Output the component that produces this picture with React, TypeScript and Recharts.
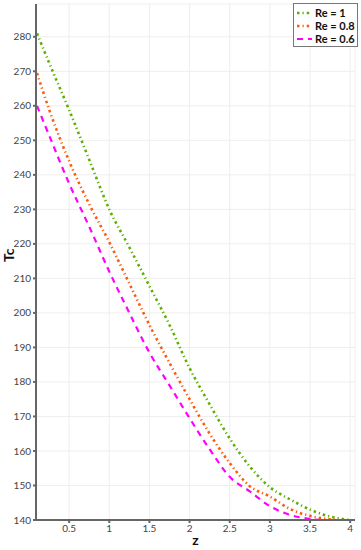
import { CartesianGrid, Line, LineChart, XAxis, YAxis } from "recharts";

// z positions and Tc values, one list per Re
const zRe1 = [0.1, 0.25, 0.5, 0.75, 1, 1.25, 1.5, 1.75, 2, 2.25, 2.5, 2.75, 3, 3.25, 3.5, 3.75, 4];
const tcRe1 = [281, 272.5, 258.8, 244.4, 230, 219, 207.8, 196.5, 184, 173.5, 163.6, 155.5, 149.5, 146, 143, 141, 140];

const zRe08 = [0.1, 0.25, 0.5, 0.75, 1, 1.25, 1.5, 1.75, 2, 2.25, 2.5, 2.75, 3, 3.25, 3.5, 3.75, 3.85];
const tcRe08 = [269.5, 259, 244, 231.5, 220.5, 208.5, 196.5, 185.5, 175, 165, 156.5, 149.8, 146.8, 143.2, 141.2, 140.2, 140];

const zRe06 = [0.1, 0.25, 0.5, 0.75, 1, 1.25, 1.5, 1.75, 2, 2.25, 2.5, 2.75, 3, 3.25, 3.5, 3.64];
const tcRe06 = [260, 251.5, 237.5, 225, 212, 200, 188.5, 179, 169.5, 160.5, 152.5, 148.3, 144, 141.5, 140.3, 140];

const xTicks = [0.5, 1, 1.5, 2, 2.5, 3, 3.5, 4];
const yTicks = [140, 150, 160, 170, 180, 190, 200, 210, 220, 230, 240, 250, 260, 270, 280];

const toRows = (zs: number[], tcs: number[]) => zs.map((z, i) => ({ z, tc: tcs[i] }));

const SERIES = [
  { name: "Re = 1", data: toRows(zRe1, tcRe1), color: "#5cb000", dash: "2.5 3 1.2 3", width: 2.6 },
  { name: "Re = 0.8", data: toRows(zRe08, tcRe08), color: "#ff5a0a", dash: "2.5 3 1.2 3", width: 2.6 },
  { name: "Re = 0.6", data: toRows(zRe06, tcRe06), color: "#ff00ff", dash: "6 5", width: 2.2 },
];

const FONT = "Lato, 'DejaVu Sans', sans-serif";

function LegendBox() {
  return (
    <div
      style={{
        position: "absolute",
        left: 293,
        top: 3,
        width: 65,
        height: 44,
        border: "1px solid #777",
        background: "#fff",
        boxSizing: "border-box",
        fontFamily: FONT,
        fontWeight: 700,
        fontSize: 11,
        color: "#111",
        padding: "2px 0 0 2px",
        whiteSpace: "nowrap",
      }}
    >
      {SERIES.map((s) => (
        <div key={s.name} style={{ display: "flex", alignItems: "center", height: 13 }}>
          <svg width={17} height={8} style={{ marginRight: 2, flexShrink: 0 }}>
            <line x1={1} y1={4} x2={16} y2={4} stroke={s.color} strokeWidth={s.width} strokeDasharray={s.dash} />
          </svg>
          <span>{s.name}</span>
        </div>
      ))}
    </div>
  );
}

export default function App() {
  return (
    <div style={{ position: "absolute", left: 0, top: 0, width: 361, height: 550, background: "#fff" }}>
      <LineChart width={361} height={550} margin={{ top: 4, right: 6, bottom: 0, left: 0 }}>
        <CartesianGrid stroke="#eeeeee" strokeWidth={1} />
        <XAxis
          type="number"
          dataKey="z"
          domain={[0.0875, 4.06]}
          ticks={xTicks}
          allowDataOverflow
          height={30}
          stroke="#666"
          strokeWidth={2}
          tickSize={3}
          tick={{ fontSize: 10, fill: "#444", fontFamily: FONT }}
          label={{ value: "z", position: "insideBottom", offset: 5, fontWeight: 700, fontSize: 14, fill: "#111", fontFamily: FONT }}
        />
        <YAxis
          type="number"
          dataKey="tc"
          domain={[140, 289.5]}
          ticks={yTicks}
          allowDataOverflow
          width={36}
          stroke="#666"
          strokeWidth={2}
          tickSize={3}
          tick={{ fontSize: 10, fill: "#444", fontFamily: FONT }}
          label={{ value: "Tc", angle: -90, position: "insideLeft", offset: 9, fontWeight: 700, fontSize: 14, fill: "#111", fontFamily: FONT }}
        />
        {SERIES.map((s) => (
          <Line
            key={s.name}
            data={s.data}
            dataKey="tc"
            name={s.name}
            type="monotone"
            stroke={s.color}
            strokeWidth={s.width}
            strokeDasharray={s.dash}
            dot={false}
            activeDot={false}
            isAnimationActive={false}
          />
        ))}
      </LineChart>
      <LegendBox />
    </div>
  );
}
